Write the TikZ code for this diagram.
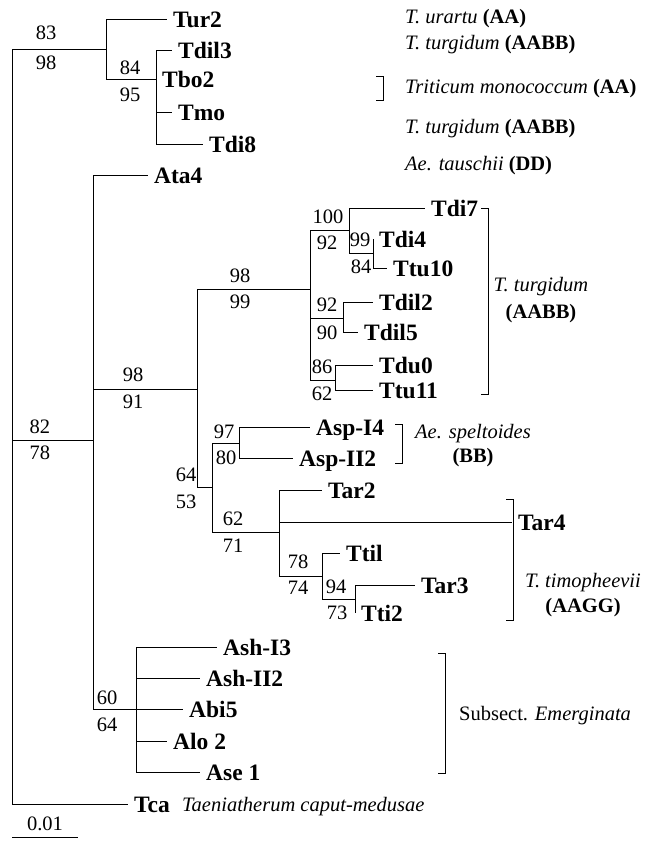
\documentclass[tikz,border=0pt]{standalone}
\usepackage{fontspec}
\setmainfont{Liberation Serif}
\usetikzlibrary{positioning}
\newcommand\treefont{\fontsize{20.5}{24}\selectfont}
\newcommand\tipfont{\fontsize{23.5}{27}\selectfont\bfseries}
\tikzset{
  branch/.style={line width=0.9pt},
  leaf/.style={anchor=base west, inner sep=0pt, xshift=6pt, yshift=-8pt,
               font=\tipfont},
  boot/.style={inner sep=0pt, font=\treefont},
  group/.style={inner sep=0pt, font=\treefont},
  bracket/.style={line width=0.9pt},
}
\begin{document}
\begin{tikzpicture}[x=1pt,y=-1pt]
  \useasboundingbox (0,0) rectangle (646,847);
  % inner nodes of the tree
  \foreach \n/\x/\y in {r/12/440, a/106/49.5, b/156/79, c/93/440, d/197/389,
      e/310/289, f/349/230, g/373/253, h/343/318, i/335/380, j/212/487,
      k/239/443, l/279/532, m/322/576, n/355/599, o/136/709}
    \coordinate (\n) at (\x,\y);
  % tips
  \foreach \n/\x/\y/\t in {tur2/167/19/Tur2, tdil3/172/50/Tdil3, tbo2/156/79/Tbo2,
      tmo/172/112/Tmo, tdi8/203/144/Tdi8, ata4/148/175/Ata4,
      tdi7/425/208/Tdi7, tdi4/373/239/Tdi4, ttu10/387/268/Ttu10,
      tdil2/373/302/Tdil2, tdil5/358/332/Tdil5, tdu0/373/365/Tdu0,
      ttu11/373/390/Ttu11, aspi4/310/427/Asp-I4, aspii2/293/458/Asp-II2,
      tar2/322/490/Tar2, tar4/512/522/Tar4, ttil/340/553/Ttil,
      tar3/415/585/Tar3, tti2/355/613/Tti2, ashi3/217/647/Ash-I3,
      ashii2/200/678/Ash-II2, abi5/183/709/Abi5, alo2/167/741/Alo 2,
      ase1/200/772/Ase 1, tca/128/804/Tca}{
    \coordinate (\n) at (\x,\y);
    \node[leaf] (\n-name) at (\n) {\t};
  }
  \foreach \p/\c in {r/a, r/c, r/tca, a/tur2, a/b, b/tdil3, b/tbo2, b/tmo, b/tdi8,
      c/ata4, c/d, c/o, d/e, d/j, e/f, e/h, e/i, f/tdi7, f/g, g/tdi4, g/ttu10,
      h/tdil2, h/tdil5, i/tdu0, i/ttu11, j/k, j/l, k/aspi4, k/aspii2,
      l/tar2, l/tar4, l/m, m/ttil, m/n, n/tar3, n/tti2,
      o/ashi3, o/ashii2, o/abi5, o/alo2, o/ase1}
    \draw[branch] (\p) |- (\c);
  % bootstrap values
  \foreach \x/\y/\v [count=\i] in {46/33/83, 46/63/98, 130/68/84, 130/95/95,
      40/427/82, 40/453/78, 133/375/98, 133/402/91, 240/276/98, 240/302/99,
      328/217/100, 327/243/92, 360/240/99, 361/267/84, 327/305/92, 327/333/90,
      322/367/86, 322/394/62, 224/432/97, 226/458/80, 186/475/64, 186/502/53,
      233/519/62, 233/546/71, 298/562/78, 298/588/74, 336/587/94, 337/613/73,
      107/698/60, 107/725/64}
    \node[boot] (bs\i) at (\x,\y) {\v};
  % brackets
  \def\brk#1#2#3{\draw[bracket] (#1-7,#2) -- (#1,#2) -- (#1,#3) -- (#1-7,#3);}
  \brk{383}{76}{100}
  \brk{488}{208}{394}
  \brk{402}{424}{463}
  \brk{513}{499}{620}
  \brk{445}{653}{773}
  % groups
  \node[group, anchor=base west] (urartu) at (405,23) {\textit{T. urartu} \textbf{(AA)}};
  \node[group, anchor=base west] (turg1) at (405,49) {\textit{T. turgidum} \textbf{(AABB)}};
  \node[group, anchor=base west] (mono) at (405,93) {\textit{Triticum monococcum} \textbf{(AA)}};
  \node[group, anchor=base west] (turg2) at (405,133) {\textit{T. turgidum} \textbf{(AABB)}};
  \node[group, anchor=base west] (taus) at (405,170) {\textit{Ae. tauschii} \textbf{(DD)}};
  \node[group, anchor=base] (turg3) at (541,291) {\textit{T. turgidum}};
  \node[group, anchor=base] (turg3g) at (541,318) {\textbf{(AABB)}};
  \node[group, anchor=base] (spel) at (473,438) {\textit{Ae. speltoides}};
  \node[group, anchor=base] (spelg) at (473,462) {\textbf{(BB)}};
  \node[group, anchor=base] (timo) at (583,587) {\textit{T. timopheevii}};
  \node[group, anchor=base] (timog) at (583,612) {\textbf{(AAGG)}};
  \node[group, anchor=base west] (emer) at (459,720) {Subsect. \textit{Emerginata}};
  \node[group, anchor=base west] (caput) at (182,811) {\textit{Taeniatherum caput-medusae}};
  % scale bar
  \coordinate (s0) at (12,837);
  \coordinate (s1) at (78,837);
  \draw[branch] (s0) -- (s1) node[boot, midway, above=6pt] (scale) {0.01};
\end{tikzpicture}
\end{document}
